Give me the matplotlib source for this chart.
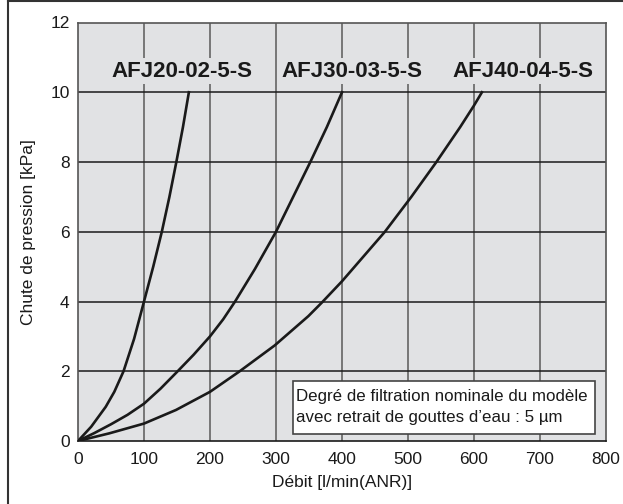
import matplotlib.pyplot as plt
from matplotlib.lines import Line2D
from matplotlib.patches import Rectangle

plt.rcParams['font.family'] = ['Liberation Sans', 'DejaVu Sans']

# curves: flow [l/min(ANR)] vs pressure drop [kPa]
afj20_x = [0, 20, 42, 55, 69, 85, 100, 114, 127, 138.5, 149, 159, 168]
afj20_y = [0, 0.41, 0.98, 1.41, 2, 2.93, 4, 5, 6, 7, 8, 9, 10]
afj30_x = [0, 25, 50, 75, 100, 125, 151, 175, 200, 220, 238, 268, 300, 326, 352, 377, 400]
afj30_y = [0, 0.23, 0.48, 0.75, 1.07, 1.5, 2, 2.47, 3.0, 3.49, 4, 4.93, 6, 7, 8, 9, 10]
afj40_x = [0, 47.5, 100, 148.5, 200, 245, 298, 349, 370, 400, 465, 505, 543, 579, 600, 612]
afj40_y = [0, 0.22, 0.5, 0.89, 1.41, 2, 2.74, 3.58, 3.98, 4.58, 6, 7, 8, 9, 9.62, 10]

names = ['AFJ20-02-5-S', 'AFJ30-03-5-S', 'AFJ40-04-5-S']
name_x = [157, 415, 674]
name_y = 10.6

note_lines = ['Degré de filtration nominale du modèle',
              'avec retrait de gouttes d\u2019eau : 5 \u00b5m']

xticks = [0, 100, 200, 300, 400, 500, 600, 700, 800]
yticks = [0, 2, 4, 6, 8, 10, 12]

bg = '#e1e2e4'
ink = '#1a1a1a'

fig = plt.figure(figsize=(6.23, 5.04), dpi=100)
ax = fig.add_axes([78/623, 63/504, 528/623, 418.5/504])
ax.set_facecolor(bg)

for x in xticks[1:-1]:
    ax.axvline(x, color='#6e6e6e', lw=1.3, zorder=1)
for y in yticks[1:-1]:
    ax.axhline(y, color=ink, lw=1.1, zorder=1)

for xs, ys in [(afj20_x, afj20_y), (afj30_x, afj30_y), (afj40_x, afj40_y)]:
    ax.plot(xs, ys, color=ink, lw=1.9, zorder=3, solid_joinstyle='round')

for n, x in zip(names, name_x):
    ax.text(x, name_y, n, ha='center', va='center', fontsize=16, fontweight='bold',
            color=ink, zorder=4,
            bbox=dict(boxstyle='square,pad=0.12', fc=bg, ec='none'))

# note box
ax.add_patch(Rectangle((326, 0.2), 457, 1.52, fc='white', ec='#444444', lw=1.2, zorder=5))
ax.text(331, 1.27, note_lines[0], ha='left', va='center', fontsize=12.2, color=ink, zorder=6)
ax.text(331, 0.66, note_lines[1], ha='left', va='center', fontsize=12.2, color=ink, zorder=6)

ax.set_xlim(0, 800)
ax.set_ylim(0, 12)
ax.set_xticks(xticks)
ax.set_yticks(yticks)
ax.tick_params(length=0, labelsize=12.5, colors=ink)
ax.tick_params(axis='x', pad=8)
ax.tick_params(axis='y', pad=6)
for s in ax.spines.values():
    s.set_color('#555555')
    s.set_linewidth(1.2)
ax.spines['bottom'].set_color(ink)

ax.set_xlabel('Débit [l/min(ANR)]', fontsize=12.5, color=ink, labelpad=6)
ax.set_ylabel('Chute de pression [kPa]', fontsize=12.5, color=ink, labelpad=10)

# outer frame (top and left only)
fig.add_artist(Line2D([8/623, 1], [1 - 1/504, 1 - 1/504], color='#333333', lw=1.5, transform=fig.transFigure))
fig.add_artist(Line2D([8/623, 8/623], [0, 1 - 1/504], color='#333333', lw=1.5, transform=fig.transFigure))

fig.savefig('out.png', dpi=100)
